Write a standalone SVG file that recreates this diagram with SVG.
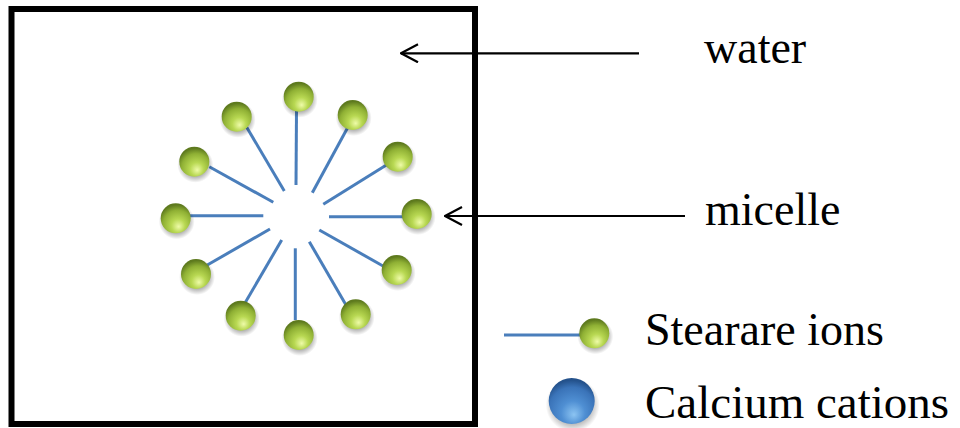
<svg xmlns="http://www.w3.org/2000/svg" width="960" height="428" viewBox="0 0 960 428">
  <defs>
    <radialGradient id="greenBall" cx="55%" cy="70%" r="65%" fx="60%" fy="78%">
      <stop offset="0" stop-color="#eefba8"/>
      <stop offset="0.35" stop-color="#b8d852"/>
      <stop offset="0.75" stop-color="#8fb034"/>
      <stop offset="1" stop-color="#5e7a1e"/>
    </radialGradient>
    <radialGradient id="blueBall" cx="50%" cy="70%" r="65%" fx="55%" fy="80%">
      <stop offset="0" stop-color="#8cc4f2"/>
      <stop offset="0.4" stop-color="#4f8fd3"/>
      <stop offset="0.8" stop-color="#3a73b8"/>
      <stop offset="1" stop-color="#24528c"/>
    </radialGradient>
    <!-- soft drop shadow drawn as a fading disc -->
    <radialGradient id="softShadow">
      <stop offset="0.6" stop-color="#000" stop-opacity="0.35"/>
      <stop offset="1" stop-color="#000" stop-opacity="0"/>
    </radialGradient>
    <!-- open chevron head; the line runs toward its tip -->
    <marker id="openArrow" viewBox="0 0 20 20" refX="19" refY="10" markerWidth="20" markerHeight="20" markerUnits="userSpaceOnUse" orient="auto">
      <path d="M2,1 L19,10 L2,19" fill="none" stroke="#000" stroke-width="2.2"/>
    </marker>
  </defs>

  <rect width="960" height="428" fill="#fff"/>
  <rect x="11.5" y="9" width="463.5" height="415" fill="none" stroke="#000" stroke-width="6"/>

  <!-- micelle: stearate tails pointing inward, heads outward -->
  <g id="micelle">
    <g id="tails" stroke="#4a7ebb" stroke-width="3">
      <line x1="296.5" y1="110" x2="296" y2="185"/>
      <line x1="348" y1="127" x2="312.3" y2="192.7"/>
      <line x1="388" y1="164" x2="323.3" y2="204.3"/>
      <line x1="405" y1="216.7" x2="329" y2="216.7"/>
      <line x1="383" y1="266" x2="319.3" y2="230"/>
      <line x1="346" y1="305" x2="309.3" y2="241.7"/>
      <line x1="295.3" y1="320" x2="295.3" y2="248.3"/>
      <line x1="245" y1="303" x2="281.7" y2="240"/>
      <line x1="207.3" y1="265" x2="270" y2="229"/>
      <line x1="189.3" y1="215.7" x2="263.3" y2="215.7"/>
      <line x1="209.3" y1="166.7" x2="273.3" y2="202.3"/>
      <line x1="246.7" y1="127.3" x2="284.3" y2="191"/>
    </g>
    <g id="head-shadows" fill="url(#softShadow)">
      <circle cx="299.7" cy="99.7" r="18"/>
      <circle cx="353.7" cy="118" r="18"/>
      <circle cx="398.7" cy="159.7" r="18"/>
      <circle cx="417.7" cy="217" r="18"/>
      <circle cx="397.7" cy="273" r="18"/>
      <circle cx="356.7" cy="317.3" r="18"/>
      <circle cx="299.7" cy="338" r="18"/>
      <circle cx="241.7" cy="318.7" r="18"/>
      <circle cx="197" cy="277" r="18"/>
      <circle cx="176.7" cy="221.3" r="18"/>
      <circle cx="195.3" cy="164.7" r="18"/>
      <circle cx="237.7" cy="119.7" r="18"/>
    </g>
    <g id="heads" fill="url(#greenBall)">
      <circle cx="298.7" cy="96.7" r="15"/>
      <circle cx="352.7" cy="115" r="15"/>
      <circle cx="397.7" cy="156.7" r="15"/>
      <circle cx="416.7" cy="214" r="15"/>
      <circle cx="396.7" cy="270" r="15"/>
      <circle cx="355.7" cy="314.3" r="15"/>
      <circle cx="298.7" cy="335" r="15"/>
      <circle cx="240.7" cy="315.7" r="15"/>
      <circle cx="196" cy="274" r="15"/>
      <circle cx="175.7" cy="218.3" r="15"/>
      <circle cx="194.3" cy="161.7" r="15"/>
      <circle cx="236.7" cy="116.7" r="15"/>
    </g>
  </g>

  <!-- label pointers -->
  <g id="connectors" stroke="#000" stroke-width="2.2" fill="none">
    <line x1="639" y1="53.3" x2="401" y2="53.3" marker-end="url(#openArrow)"/>
    <line x1="685" y1="216" x2="445" y2="216" marker-end="url(#openArrow)"/>
  </g>

  <g id="water-label">
    <text x="704" y="63" font-family="Times New Roman" font-size="46">water</text>
  </g>
  <g id="micelle-label">
    <text x="705" y="225" font-family="Times New Roman" font-size="46">micelle</text>
  </g>

  <!-- legend -->
  <g id="legend-stearate">
    <line x1="504" y1="335" x2="582" y2="335" stroke="#4a7ebb" stroke-width="3"/>
    <circle cx="595.3" cy="336.3" r="18" fill="url(#softShadow)"/>
    <circle cx="594.3" cy="333.3" r="15" fill="url(#greenBall)"/>
    <text x="645" y="345" font-family="Times New Roman" font-size="46">Stearare ions</text>
  </g>
  <g id="legend-calcium">
    <circle cx="572.7" cy="405" r="27" fill="url(#softShadow)"/>
    <circle cx="571.7" cy="401" r="23" fill="url(#blueBall)"/>
    <text x="645" y="418" font-family="Times New Roman" font-size="47">Calcium cations</text>
  </g>
</svg>
